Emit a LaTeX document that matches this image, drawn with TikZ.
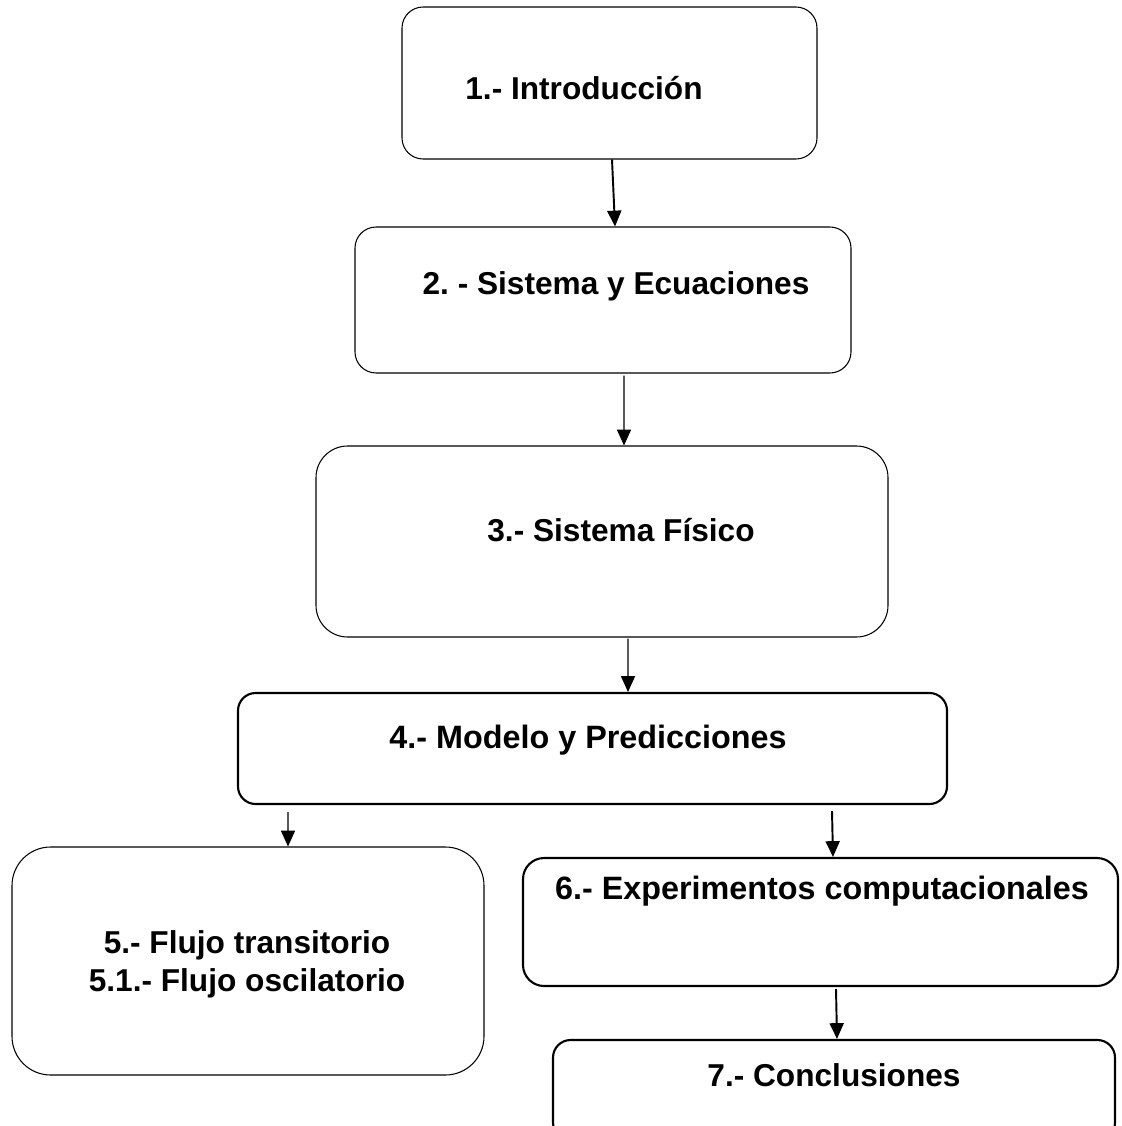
\documentclass[tikz,border=0pt]{standalone}
\usepackage{fontspec}
\setmainfont{Liberation Sans}
\usetikzlibrary{arrows.meta, positioning}
\frenchspacing

\begin{document}
\begin{tikzpicture}[
  box/.style={draw, rounded corners=12pt, line width=0.6pt, inner sep=0pt},
  boxthick/.style={box, line width=1.2pt},
  lbl/.style={font=\fontsize{18}{21.5}\selectfont\bfseries, align=center, inner sep=0pt},
  lblwide/.style={lbl, font=\fontsize{18.4}{22}\selectfont\bfseries},
  arr/.style={-{Triangle[length=9pt, width=8pt]}, line width=0.6pt},
  arrthick/.style={arr, line width=1.1pt}
]
  \useasboundingbox (0,0) rectangle (22.42,-22.52);

  % Boxes
  \node[box, minimum width=8.30cm, minimum height=3.04cm] (intro) at (12.19, -1.66) {};
  \node[box, minimum width=9.92cm, minimum height=2.92cm] (ecu) at (12.06, -6.00) {};
  \node[box, rounded corners=18pt, minimum width=11.44cm, minimum height=3.82cm] (fis) at (12.04, -10.83) {};
  \node[boxthick, rounded corners=10pt, minimum width=14.18cm, minimum height=2.22cm] (modelo) at (11.85, -14.97) {};
  \node[box, rounded corners=22pt, minimum width=9.44cm, minimum height=4.56cm] (flujo) at (4.96, -19.22) {};
  \node[boxthick, minimum width=11.90cm, minimum height=2.56cm] (exper) at (16.41, -18.44) {};
  \node[boxthick, rounded corners=10pt, minimum width=11.24cm, minimum height=2.00cm] (concl) at (16.68, -21.80) {};

  % Texts
  \node[lbl] (t1) at (11.68, -1.76) {1.- Introducción};
  \node[lbl] (t2) at (12.32, -5.72) {2. - Sistema y Ecuaciones};
  \node[lbl] (t3) at (12.42, -10.60) {3.- Sistema Físico};
  \node[lblwide] (t4) at (11.76, -14.80) {4.- Modelo y Predicciones};
  \node[lbl] (t5) at (4.94, -19.28) {5.- Flujo transitorio\\5.1.- Flujo oscilatorio};
  \node[lblwide] (t6) at (16.44, -17.82) {6.- Experimentos computacionales};
  \node[lbl] (t7) at (16.68, -21.50) {7.- Conclusiones};

  % Arrows
  \draw[arrthick] ([xshift=0.05cm]intro.south) -- ([xshift=0.24cm]ecu.north);
  \draw[arr] ([xshift=0.42cm, yshift=-0.04cm]ecu.south) -- ([xshift=0.44cm]fis.north);
  \draw[arr] ([xshift=0.52cm, yshift=-0.02cm]fis.south) -- ([xshift=0.71cm]modelo.north);
  \draw[arr] ([xshift=-6.09cm, yshift=-0.14cm]modelo.south) -- ([xshift=0.80cm]flujo.north);
  \draw[arrthick] ([xshift=4.79cm, yshift=-0.12cm]modelo.south) -- ([xshift=0.25cm]exper.north);
  \draw[arrthick] ([xshift=0.31cm, yshift=-0.04cm]exper.south) -- ([xshift=0.06cm]concl.north);
\end{tikzpicture}
\end{document}
